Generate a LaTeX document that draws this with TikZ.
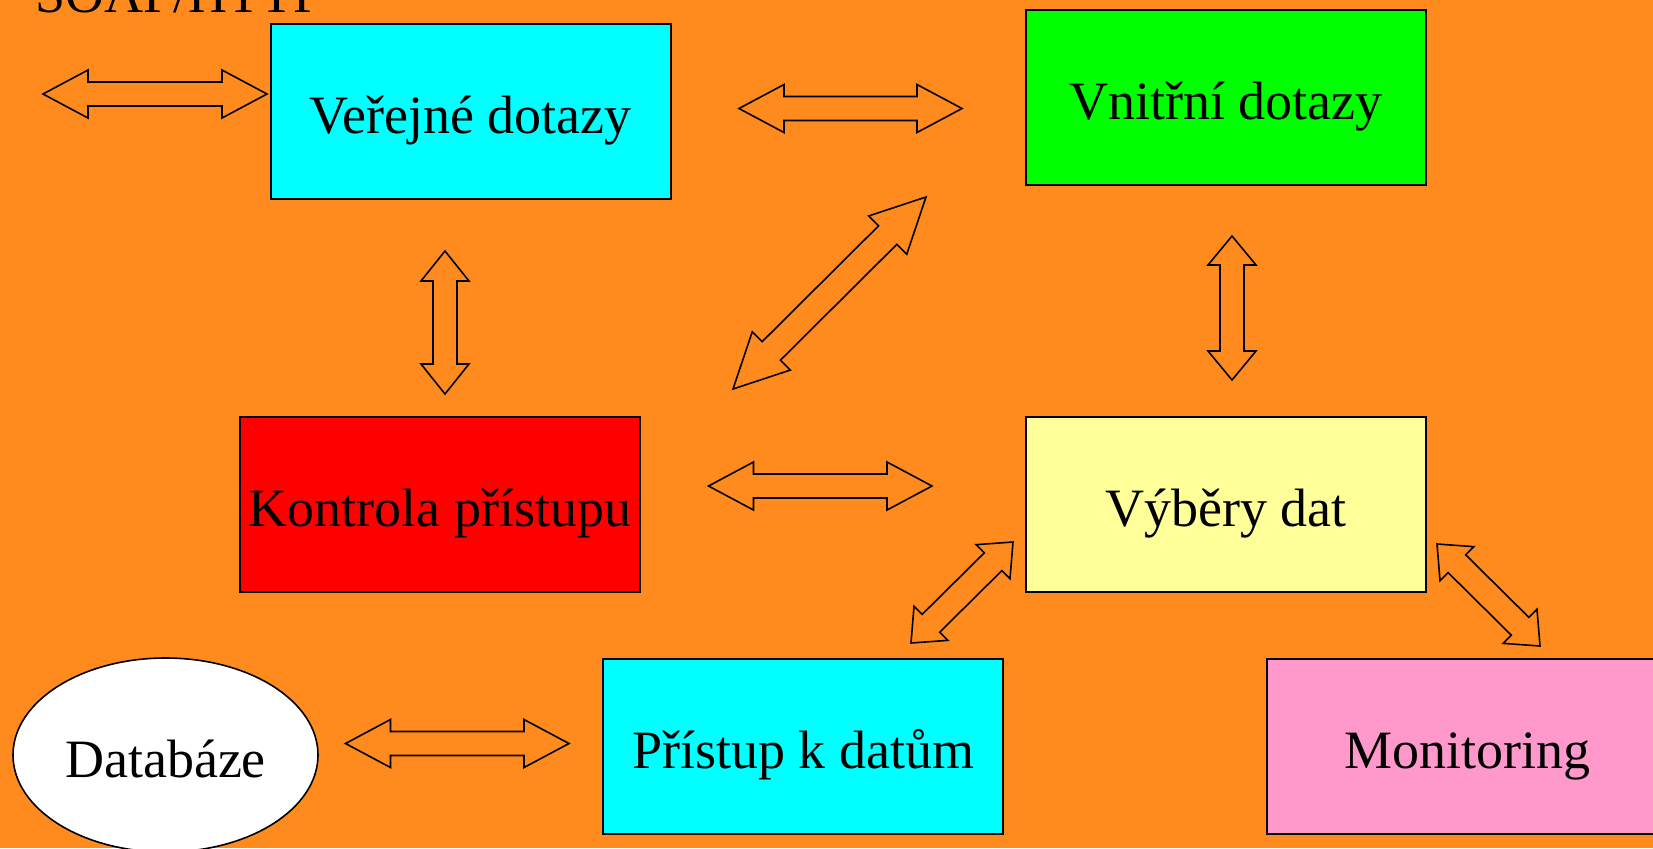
\documentclass[tikz,border=0pt]{standalone}
\usepackage{fontspec}
\setmainfont{Liberation Serif}
\usetikzlibrary{calc,shapes.geometric}
\definecolor{bg}{RGB}{255,139,31}
\definecolor{cyanbox}{RGB}{0,255,255}
\definecolor{greenbox}{RGB}{0,255,0}
\definecolor{redbox}{RGB}{255,0,0}
\definecolor{yellowbox}{RGB}{255,255,153}
\definecolor{pinkbox}{RGB}{255,153,204}
\newcommand\dblarrow[5]{%
 \draw[arr] (#1)
 -- ($(#1)!#3!(#2)!#4!90:(#2)$)
 -- ($(#1)!#3!(#2)!#5!90:(#2)$)
 -- ($(#2)!#3!(#1)!#5!-90:(#1)$)
 -- ($(#2)!#3!(#1)!#4!-90:(#1)$)
 -- (#2)
 -- ($(#2)!#3!(#1)!#4!90:(#1)$)
 -- ($(#2)!#3!(#1)!#5!90:(#1)$)
 -- ($(#1)!#3!(#2)!#5!-90:(#2)$)
 -- ($(#1)!#3!(#2)!#4!-90:(#2)$)
 -- cycle;}
\begin{document}
\begin{tikzpicture}[x=0.5pt,y=-0.5pt,
  lbl/.style={font=\fontsize{27}{30}\selectfont, text height=24pt, text depth=2pt, inner sep=0pt},
  box/.style={lbl, draw=black, line width=1pt, minimum width=200pt, minimum height=87.5pt},
  arr/.style={draw=black, line width=0.8pt, line join=miter}]
\path[fill=bg] (0,0) rectangle (1653,848);
\useasboundingbox (0,0) rectangle (1653,848);
\node[font=\fontsize{27}{30}\selectfont, inner sep=0pt, anchor=base west] (soap) at (35,12) {SOAP/HTTP};
\node[box, fill=cyanbox] (pub) at (470.5,111.5) {Veřejné dotazy};
\node[box, fill=greenbox] (int) at (1226,97) {Vnitřní dotazy};
\node[box, fill=redbox] (acc) at (440,504.5) {Kontrola přístupu};
\node[box, fill=yellowbox] (sel) at (1226,504.5) {Výběry dat};
\node[box, fill=cyanbox] (dat) at (803,746.5) {Přístup k datům};
\node[box, fill=pinkbox] (mon) at (1467,746.5) {Monitoring};
\node[lbl, ellipse, draw=black, line width=0.8pt, fill=white, minimum width=152.5pt, minimum height=97pt] (db) at (165.5,755) {Databáze};
% arrow end points
\coordinate (a1s) at (43,94);     \coordinate (a1e) at (267,94);
\coordinate (a2s) at (739,108.5); \coordinate (a2e) at (962,108.5);
\coordinate (a3s) at (708.5,486); \coordinate (a3e) at (932,486);
\coordinate (a4s) at (345.5,743.5); \coordinate (a4e) at (569,743.5);
\coordinate (v1s) at (445,251);   \coordinate (v1e) at (445,394);
\coordinate (v2s) at (1232,236);  \coordinate (v2e) at (1232,380);
\coordinate (d1s) at (733,389);   \coordinate (d1e) at (926,197);
\coordinate (d2s) at (911,643);   \coordinate (d2e) at (1013,542);
\coordinate (d3s) at (1437,544);  \coordinate (d3e) at (1540,646);
\dblarrow{a1s}{a1e}{22.5pt}{12pt}{6pt}
\dblarrow{a2s}{a2e}{22.5pt}{12pt}{6pt}
\dblarrow{a3s}{a3e}{22.5pt}{12pt}{6pt}
\dblarrow{a4s}{a4e}{22.5pt}{12pt}{6pt}
\dblarrow{v1s}{v1e}{15pt}{12pt}{6pt}
\dblarrow{v2s}{v2e}{14.5pt}{12pt}{6pt}
\dblarrow{d1s}{d1e}{27pt}{13.5pt}{6.5pt}
\dblarrow{d2s}{d2e}{14pt}{12pt}{6.25pt}
\dblarrow{d3s}{d3e}{14pt}{12pt}{6.25pt}
\end{tikzpicture}
\end{document}
